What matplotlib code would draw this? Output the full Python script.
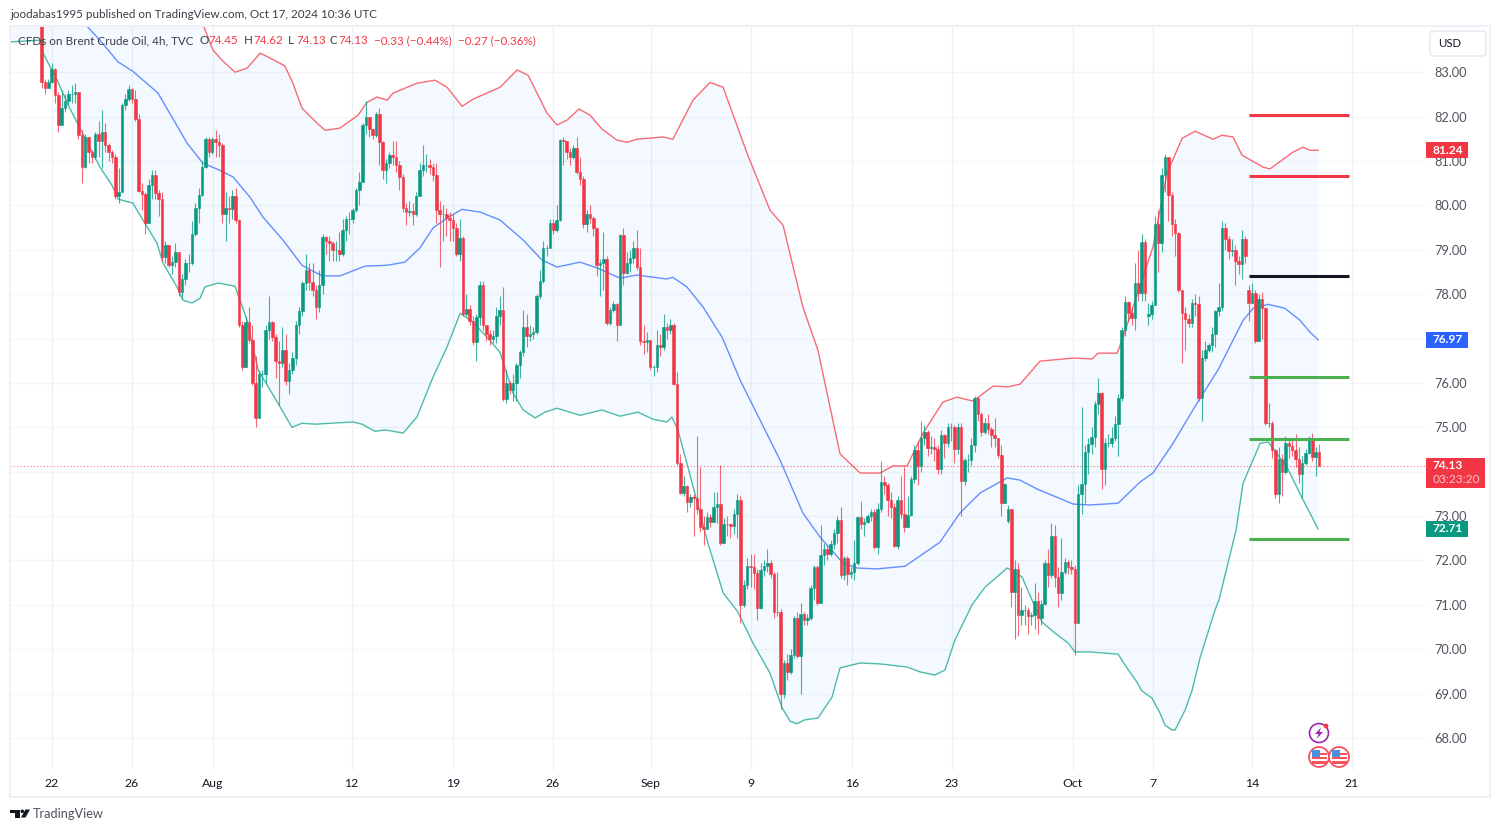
import numpy as np
import matplotlib
matplotlib.use("Agg")
import matplotlib.pyplot as plt
from matplotlib.patches import Rectangle, FancyBboxPatch, Circle, Polygon
from matplotlib.transforms import blended_transform_factory

plt.rcParams['font.family'] = ['Lato', 'DejaVu Sans']

first_open = 84.6
closes = [
82.78,82.65,82.78,83.08,82.48,81.8,82.2,82.35,82.5,82.5,
82.55,81.58,80.87,81.55,81.2,81.1,81.6,81.45,81.65,81.35,
81.2,81.1,80.22,80.3,82.25,82.4,82.63,82.4,81.95,80.33,
80.25,79.6,80.45,80.68,80.27,80.15,78.83,79.1,78.65,78.72,
78.95,78.05,78.35,78.7,78.7,79.35,79.93,80.23,80.87,81.5,
81.2,81.5,81.43,81.35,79.8,79.95,79.92,80.2,79.67,77.3,
76.35,77.37,76.96,76.0,75.2,76.2,76.2,77.2,77.37,77.03,
76.5,76.45,76.75,76.05,76.3,76.55,77.3,77.63,78.25,78.55,
78.27,78.1,77.7,78.2,79.28,79.2,79.15,79.0,79.0,78.9,
79.45,79.7,79.7,79.9,80.35,80.53,81.8,82.0,81.73,81.58,
82.05,81.43,80.8,80.95,81.13,81.1,80.9,80.64,79.93,79.85,
79.88,79.8,80.22,80.8,80.9,80.9,80.87,80.68,79.9,79.8,
79.8,79.72,79.67,79.5,78.9,79.27,77.55,77.67,77.4,76.92,
77.48,78.2,77.3,77.1,77.0,77.05,77.5,77.64,75.63,76.0,
75.85,76.0,76.4,76.7,77.25,77.05,77.1,77.15,77.95,78.3,
79.03,79.05,79.6,79.45,79.67,81.47,81.45,81.2,81.08,81.3,
80.75,80.6,79.58,79.8,79.72,79.5,78.65,78.7,78.8,77.35,
77.65,77.77,77.3,79.33,78.48,78.7,78.82,79.05,78.62,76.95,
76.93,76.97,76.35,76.35,76.85,76.8,77.25,77.2,77.3,75.98,
74.2,73.52,73.67,73.32,73.43,73.4,73.15,72.76,72.72,72.97,
72.87,73.2,73.27,72.4,72.83,72.82,72.78,73.05,73.37,71.0,
71.45,71.87,71.85,71.72,70.93,71.78,71.87,71.95,71.7,70.85,
70.83,69.0,69.68,69.48,69.88,70.7,69.85,70.8,70.65,70.7,
71.38,71.85,71.05,72.12,72.25,72.15,72.38,72.62,72.92,71.67,
72.05,71.7,71.75,71.95,72.97,72.83,72.87,73.0,73.1,72.3,
73.17,73.77,73.7,73.37,73.2,72.33,73.37,73.05,72.75,73.03,
73.83,74.48,74.12,74.75,74.9,74.53,74.55,74.5,74.05,74.82,
74.65,75.0,75.0,74.52,75.0,73.8,74.26,74.26,74.6,75.67,
75.3,74.9,75.1,74.97,74.82,74.75,74.37,73.3,73.72,73.15,
71.3,71.8,70.77,70.88,70.88,70.76,70.78,71.09,70.7,71.03,
71.95,71.67,72.55,71.63,71.27,71.75,71.97,71.85,71.8,70.6,
73.5,73.72,74.44,74.62,74.78,75.52,75.78,74.05,74.65,74.65,
74.77,75.07,75.65,77.2,77.83,77.58,77.47,78.25,78.02,79.18,
78.02,77.55,77.75,79.57,79.15,80.68,81.1,80.24,79.57,79.38,
78.1,77.58,77.45,77.35,77.8,77.78,75.67,76.55,76.75,76.85,
77.1,77.62,77.7,79.5,79.25,78.98,79.0,78.75,78.68,79.25,
78.85,77.8,78.02,76.95,77.9,77.68,75.1,75.1,74.48,73.5,
74.28,74.0,74.65,74.58,74.48,74.28,73.95,74.2,74.42,74.75,
74.32,74.45,74.13]
highs = [
84.6,82.85,82.85,83.2,83.1,82.55,82.6,82.5,82.6,82.7,
82.75,82.55,81.7,81.6,81.3,81.25,81.65,81.9,82.15,81.85,
81.4,81.25,81.15,80.85,82.3,82.5,82.7,82.65,82.6,82.05,
80.5,80.3,80.6,80.8,80.8,80.35,80.3,79.2,78.85,78.85,
79.15,78.95,78.45,78.8,78.9,79.65,80.05,80.4,81.0,81.55,
81.55,81.55,81.7,81.6,81.4,80.3,80.2,80.35,80.4,79.7,
77.4,77.5,77.7,77.3,76.6,76.3,76.3,77.3,77.95,77.4,
77.1,76.95,77.25,77.1,76.45,76.7,77.4,77.7,78.3,78.9,
78.7,78.7,78.2,78.55,79.35,79.3,79.3,79.2,79.2,79.4,
79.7,79.75,79.85,79.95,80.4,80.75,81.85,82.35,81.85,81.7,
82.1,82.2,81.45,81.05,81.2,81.45,81.45,81.0,80.7,80.05,
80.1,80.05,80.3,80.95,81.35,81.15,81.05,80.95,80.95,80.1,
80.0,79.95,79.85,79.8,79.6,79.7,79.3,78.0,77.75,77.5,
77.55,78.3,78.3,77.3,77.2,77.2,77.7,77.95,78.15,76.3,
76.05,76.2,76.45,76.75,77.65,77.55,77.3,77.25,78.0,78.55,
79.2,79.1,79.7,79.7,80.0,81.5,81.55,81.45,81.3,81.35,
81.55,81.1,80.65,79.9,80.0,79.75,79.5,78.8,79.4,78.85,
77.7,77.85,77.8,79.35,79.5,78.95,79.0,79.2,79.45,79.05,
77.3,77.15,76.9,76.4,77.2,77.1,77.55,77.35,77.45,77.35,
76.25,74.4,73.9,73.7,73.5,73.5,74.8,74.1,73.0,73.1,
73.05,73.55,73.55,74.15,72.95,73.0,72.85,73.15,73.5,73.45,
71.55,72.05,72.15,72.15,71.8,71.95,72.0,72.25,72.0,71.75,
71.75,70.9,69.75,69.9,70.0,70.75,70.85,71.05,70.85,70.8,
71.45,71.9,71.9,72.8,72.4,72.35,72.45,72.7,73.0,73.2,
72.1,72.1,71.85,72.45,73.0,73.35,72.95,73.05,73.15,73.15,
73.3,74.25,73.9,73.75,73.55,73.3,73.45,73.9,74.1,73.45,
73.9,74.6,74.7,75.15,75.05,74.95,74.8,74.75,74.6,74.95,
74.85,75.1,75.1,75.05,75.1,75.1,74.3,74.4,74.75,75.7,
75.68,75.35,75.2,75.3,75.0,75.2,74.75,74.6,73.75,73.25,
73.15,72.0,71.95,71.4,71.0,70.95,70.85,71.5,71.3,71.1,
72.0,72.25,72.85,72.8,71.85,72.5,72.05,72.0,72.0,71.9,
73.7,75.45,74.6,74.75,75.0,75.6,76.1,75.8,74.75,74.85,
75.0,75.25,75.75,77.25,77.95,77.85,77.7,78.7,79.0,79.35,
79.25,77.8,77.85,79.75,79.9,80.85,81.15,81.05,80.3,79.7,
79.4,78.1,77.7,77.55,77.9,78.0,77.95,76.75,76.95,76.9,
77.25,77.65,78.25,79.65,79.6,79.3,79.25,79.1,78.85,79.45,
79.3,78.2,78.25,78.1,78.0,78.05,77.72,75.55,75.15,74.5,
74.55,74.4,74.8,74.75,74.75,74.85,74.55,74.35,74.5,74.8,
74.88,74.55,74.62]
lows = [
82.65,82.5,82.65,82.75,82.3,81.65,81.95,82.1,82.25,82.3,
82.3,81.5,80.5,80.85,80.95,80.95,81.05,81.1,80.85,81.2,
81.0,80.95,80.15,80.05,80.3,82.15,82.35,82.3,81.9,80.3,
79.9,79.35,80.1,80.15,80.15,79.75,78.75,78.7,78.6,78.45,
78.6,77.95,77.9,78.2,78.5,78.65,79.3,79.6,80.2,80.85,
81.1,81.15,81.1,81.1,79.6,79.2,79.6,79.7,79.6,77.25,
76.3,76.35,76.9,75.95,75.0,75.2,75.9,76.0,77.0,76.95,
76.1,75.5,76.35,75.95,75.75,76.2,76.4,77.1,77.5,78.1,
78.1,77.95,77.45,77.6,78.0,78.9,78.75,78.75,78.75,78.75,
78.85,79.2,79.35,79.6,79.85,80.0,80.55,81.6,81.55,81.5,
81.55,80.9,80.6,80.5,80.85,80.9,80.75,80.35,79.85,79.55,
79.75,79.55,79.75,80.2,80.65,80.75,80.7,80.55,79.6,78.6,
79.2,79.3,79.2,79.2,78.85,78.75,77.5,77.5,77.3,76.85,
76.5,77.3,77.2,76.95,76.85,76.9,76.9,77.3,75.6,75.55,
75.75,75.6,75.6,76.1,76.6,76.8,76.95,77.0,77.1,77.9,
78.25,78.85,79.15,79.35,79.4,79.65,80.9,81.05,80.9,81.05,
80.7,80.45,79.5,79.4,79.6,79.3,78.4,77.95,78.1,77.3,
77.3,77.6,76.95,77.3,78.2,78.45,78.5,78.7,78.55,76.85,
76.65,76.7,76.3,76.15,76.25,76.6,76.75,77.0,77.1,75.95,
74.15,73.5,73.45,73.1,73.2,72.55,73.05,72.65,72.35,72.7,
72.75,72.95,72.85,72.35,72.4,72.55,72.5,72.6,72.5,70.6,
70.95,71.35,71.4,71.35,70.65,70.9,71.65,71.75,71.6,70.7,
70.75,68.65,68.9,69.3,69.45,69.8,69.8,69.0,70.55,70.55,
70.65,71.1,71.0,71.05,71.9,72.0,72.1,72.25,72.4,71.6,
71.55,71.45,71.6,71.55,71.9,72.7,72.55,72.85,72.9,72.25,
72.15,73.1,73.5,73.0,72.95,72.3,72.25,72.95,72.65,72.75,
73.0,73.75,73.7,74.0,74.6,74.35,74.4,74.25,73.95,73.95,
74.3,74.55,74.7,74.2,74.4,73.0,73.7,74.0,74.15,74.45,
75.15,74.8,74.85,74.85,74.55,74.55,74.3,73.0,73.3,72.85,
70.95,70.24,70.3,70.55,70.55,70.35,70.55,70.45,70.35,70.55,
71.0,71.4,71.6,71.4,70.95,71.1,71.7,71.7,71.7,69.88,
70.6,73.05,73.3,73.95,74.4,74.55,75.3,73.6,73.7,74.55,
74.55,74.7,74.35,75.6,77.05,77.4,77.3,77.2,77.85,77.85,
77.85,77.3,77.45,77.75,78.5,78.95,80.3,79.65,79.3,78.85,
78.05,76.45,76.75,77.25,77.25,77.5,75.6,75.15,76.5,76.7,
76.7,76.8,77.5,77.65,79.0,78.8,78.85,78.2,78.45,78.35,
78.7,77.4,77.9,76.9,76.95,77.0,75.05,75.0,74.3,73.4,
73.3,73.45,73.95,74.3,74.35,74.1,73.75,73.4,74.15,74.4,
74.25,73.9,74.13]
gap_opens = {289: 72.9, 290: 73.15, 331: 77.5, 361: 78.1}

upper_x = [-9.5,40,48.1,51.1,53.8,57.7,61.3,65.2,68.1,72.6,75.0,77.7,82.2,84.6,89.0,94.4,97.1,100.1,103.1,104.9,
112.0,117.4,121.0,125.5,128.7,136.8,141.9,145.2,150.8,153.8,156.8,160.4,163.7,167.2,171.7,174.7,177.7,185.5,188.4,194.4,
199.5,203.4,210.5,217.4,221.3,227.2,231.7,238.3,244.3,250.2,254.1,258.3,263.1,269.0,273.2,278.0,284.0,288.2,292.0,298.0,
307.9,313.5,315.3,321.0,322.8,326.4,331.7,335.9,340.4,344.3,349.6,352.3,355.6,358.3,364.6,366.6,373.5,376.5,378.6,381.0]
upper_y = [88,85.5,84.08,83.50,83.27,83.00,83.09,83.43,83.32,83.14,82.75,82.19,81.85,81.69,81.74,82.03,82.32,82.44,82.37,82.53,
82.75,82.82,82.66,82.23,82.39,82.66,83.05,82.93,82.08,81.81,81.92,82.17,82.03,81.72,81.47,81.42,81.49,81.54,81.49,82.37,
82.77,82.66,81.18,79.89,79.55,77.71,76.74,74.40,73.97,73.97,74.13,74.13,74.87,75.57,75.68,75.59,75.93,75.91,75.97,76.49,
76.56,76.54,76.67,76.67,77.03,77.86,79.06,80.73,81.51,81.67,81.49,81.58,81.54,81.13,80.86,80.82,81.20,81.31,81.24,81.24]

middle_x = [13.8,17.4,22.8,27.2,34.7,43.4,48.1,53.2,57.1,62.2,66.1,72.0,77.7,83.7,89.0,96.5,103.1,108.4,112.9,116.8,
121.3,125.5,130.8,136.8,143.7,149.3,153.8,160.7,165.8,172.6,177.7,186.6,188.4,192.6,197.4,203.1,208.5,220.4,227.2,232.3,
239.2,243.4,249.3,257.7,268.1,274.1,280.1,288.2,292.0,297.1,307.9,313.0,321.3,327.9,331.7,337.7,344.9,351.1,358.6,361.6,
366.1,371.1,375.6,378.6,381.0]
middle_y = [84.01,83.72,83.23,83.02,82.53,81.40,80.95,80.79,80.64,80.18,79.73,79.22,78.65,78.41,78.41,78.63,78.65,78.72,79.04,79.49,
79.73,79.91,79.85,79.67,79.22,78.77,78.61,78.72,78.59,78.36,78.43,78.34,78.38,78.16,77.71,77.03,76.06,74.26,73.07,72.53,
71.94,71.83,71.81,71.87,72.41,73.07,73.52,73.86,73.81,73.61,73.27,73.25,73.29,73.77,73.97,74.64,75.55,76.29,77.41,77.68,
77.77,77.68,77.41,77.14,76.97]

lower_x = [-9.5,-0.5,0.4,4.6,7.9,11.4,17.4,21.0,22.8,27.2,30.2,34.4,36.2,40.4,42.2,44.9,47.3,48.7,52.6,57.7,
61.3,64.6,69.6,74.7,77.7,81.6,92.9,95.6,99.5,102.5,107.9,112.0,116.8,121.0,124.9,128.7,132.9,136.8,140.7,143.7,
147.3,150.2,153.8,160.7,167.2,172.6,178.0,182.5,186.6,188.1,189.9,192.9,198.6,203.4,207.8,212.3,217.4,221.0,223.4,225.4,
227.8,231.7,235.9,238.3,244.3,250.2,258.3,262.2,266.6,269.6,272.6,277.7,281.6,288.2,292.6,296.0,298.6,302.5,306.4,308.4,
312.9,321.3,323.4,326.9,328.4,331.4,333.8,335.3,337.4,338.3,341.3,343.4,345.8,350.2,351.4,356.5,358.6,363.7,366.1,371.7,
376.2,381.0]
lower_y = [83.68,83.72,83.43,82.82,82.26,81.74,80.86,80.45,80.14,80.05,79.67,79.15,78.70,78.16,77.86,77.80,77.91,78.16,78.25,78.18,
77.41,76.29,75.66,75.00,75.09,75.07,75.12,75.07,74.91,74.94,74.87,75.23,76.13,76.81,77.57,77.37,77.03,76.69,75.77,75.39,
75.21,75.34,75.43,75.27,75.39,75.25,75.34,75.18,75.12,75.23,74.94,74.10,72.46,71.27,70.84,70.14,69.46,68.68,68.38,68.32,
68.41,68.45,68.92,69.58,69.69,69.67,69.60,69.49,69.42,69.53,70.21,71.00,71.40,71.83,71.63,71.04,70.61,70.36,70.14,69.94,
69.94,69.89,69.64,69.26,69.06,68.90,68.56,68.29,68.18,68.18,68.63,69.08,69.82,70.88,71.11,72.68,73.74,74.64,74.67,74.10,
73.41,72.71]

date_ticks = [3.0,26.9,51.0,92.5,122.7,152.5,181.8,211.6,241.8,271.6,307.7,331.6,361.2,391.0]
date_labels = ['22','26','Aug','12','19','26','Sep','9','16','23','Oct','7','14','21']
price_ticks = list(range(68, 84))
hidden_price_labels = [74, 77]   # covered by the price tags in the reference
level_start, level_end = 360.4, 390.2
red_levels = [82.03, 80.66]
black_levels = [78.40]
green_levels = [76.13, 74.73, 72.48]
last_price = 74.13

UP, DOWN = '#089981', '#f23645'
W, H = 1500, 832
fig = plt.figure(figsize=(W/100, H/100), dpi=100, facecolor='white')
ax = fig.add_axes([10/W, 1-770/H, 1415/W, 744/H], facecolor='white')
ax.set_xlim(-9.46, 412.9)
ax.set_ylim(67.28, 84.04)
for s in ax.spines.values():
    s.set_visible(False)

ax.set_xticks(date_ticks)
ax.set_xticklabels(date_labels, color='#131722', fontsize=8.8)
ax.set_yticks(price_ticks)
ax.set_yticklabels(['' if p in hidden_price_labels else f'{p:.2f}' for p in price_ticks], color='#50535e', fontsize=9.2)
ax.yaxis.tick_right()
ax.tick_params(axis='both', length=0)
ax.tick_params(axis='x', pad=6)
ax.tick_params(axis='y', pad=6.5)
ax.grid(True, axis='x', color='#eef0f3', lw=0.9)
ax.grid(True, axis='y', color='#f3f5f7', lw=0.9)
ax.set_axisbelow(True)

# band
ax.fill(upper_x + lower_x[::-1], upper_y + lower_y[::-1], color='#2196f3', alpha=0.05, lw=0, zorder=1)
ax.plot(upper_x, upper_y, color='#f7525f', lw=1.0, alpha=.85, zorder=2)
ax.plot(middle_x, middle_y, color='#2962ff', lw=1.0, alpha=.7, zorder=2)
ax.plot(lower_x, lower_y, color='#22ab94', lw=1.0, alpha=.8, zorder=2)
ax.axhline(last_price, color=DOWN, lw=0.8, ls=(0, (1, 2)), alpha=.7, zorder=2)

# candles
c = np.array(closes); hi = np.array(highs); lo = np.array(lows)
o = np.r_[first_open, c[:-1]]
for k, v in gap_opens.items():
    o[k] = v
idx = np.arange(len(c)) * 0.998
cols = np.where(c >= o, UP, DOWN)
ax.vlines(idx, np.minimum(lo, np.minimum(o, c)), np.maximum(hi, np.maximum(o, c)), colors=cols, lw=0.8, alpha=.75, zorder=3)
ax.bar(idx, np.abs(c-o), bottom=np.minimum(o, c), width=0.76, color=cols, edgecolor=cols, lw=0.4, zorder=4)

# drawn levels
for vals, col in ((red_levels, DOWN), (black_levels, '#131722'), (green_levels, '#4caf50')):
    ax.hlines(vals, level_start, level_end, colors=col, lw=2.2, zorder=5)

# price tags on the axis
tr = blended_transform_factory(ax.transAxes, ax.transData)
def tag_text(x_frac, val, s, col='white', **kw):
    ax.text(x_frac, val, s, transform=tr, color=col, fontsize=8.6, va='center', ha='left', clip_on=False, zorder=7, **kw)

tx = 1 + 8/1415
for val, col in ((81.24, DOWN), (76.97, '#2962ff'), (72.71, UP)):
    ax.add_patch(Rectangle((1.0006, val-.18), 42/1415, .36, transform=tr, fc=col, ec='none', clip_on=False, zorder=6))
    tag_text(tx, val, f'{val:.2f}', fontweight='bold')
ax.add_patch(Rectangle((1.0006, last_price-.5), 59/1415, .68, transform=tr, fc=DOWN, ec='none', clip_on=False, zorder=6))
tag_text(tx, last_price+.02, f'{last_price:.2f}', fontweight='bold')
tag_text(tx, last_price-.31, '03:23:20', col='#fbc5ca')

# overlay in figure pixels for the page furniture
ov = fig.add_axes([0, 0, 1, 1], facecolor='none', zorder=10)
ov.set_xlim(0, W); ov.set_ylim(H, 0); ov.axis('off')
ov.add_patch(Rectangle((10, 26), 1480, 771, fc='none', ec='#eef0f6', lw=1.4))
ov.text(10, 14, 'joodabas1995 published on TradingView.com, Oct 17, 2024 10:36 UTC', fontsize=8.4, color='#3a3e48', va='center')
ov.text(18, 41, 'CFDs on Brent Crude Oil, 4h, TVC', fontsize=8.35, color='#3a3e48', va='center')
for px, s, col in ((200, 'O', '#3a3e48'), (208, '74.45', DOWN), (244, 'H', '#3a3e48'), (253, '74.62', DOWN),
                   (288, 'L', '#3a3e48'), (296, '74.13', DOWN), (330, 'C', '#3a3e48'), (338, '74.13', DOWN),
                   (374, '\u22120.33 (\u22120.44%)', DOWN), (458, '\u22120.27 (\u22120.36%)', DOWN)):
    ov.text(px, 41, s, fontsize=8.35, color=col, va='center')
ov.add_patch(FancyBboxPatch((1432, 33), 52, 21, boxstyle='round,pad=2,rounding_size=3', fc='white', ec='#e0e3eb', lw=0.9))
ov.text(1438, 43.5, 'USD', fontsize=8.2, color='#131722', va='center')

# TradingView mark
ov.add_patch(Polygon([(10, 809.5), (20, 809.5), (20, 817.5), (14.5, 817.5), (14.5, 813), (10, 813)], fc='#131722', ec='none'))
ov.add_patch(Circle((22.3, 811.3), 1.8, fc='#131722', ec='none'))
ov.add_patch(Polygon([(25.5, 809.5), (30, 809.5), (25.5, 817.5), (21, 817.5)], fc='#131722', ec='none'))
ov.text(33, 814.5, 'TradingView', fontsize=9.2, color='#50535e', va='center')

# event icons
ov.add_patch(Circle((1319, 733), 9.5, fc='white', ec='#9c27b0', lw=1.2))
ov.add_patch(Polygon([(1321, 727.5), (1315, 734), (1318.5, 734), (1316.5, 739), (1323, 732), (1319.5, 732)], fc='#9c27b0', ec='none'))
ov.add_patch(Circle((1326, 726), 2.4, fc='#f23645', ec='none'))
for cx in (1319, 1339):
    ov.add_patch(Circle((cx, 757), 10, fc='white', ec='#f7525f', lw=1.3, zorder=3))
    for yy, hh in ((752.5, 2.2), (757, 2.2), (761, 3)):
        ov.add_patch(Rectangle((cx-7.5, yy), 15, hh, fc='#f7525f', ec='none', zorder=4))
    ov.add_patch(Rectangle((cx-7.5, 750), 8, 7, fc='#4a90e2', ec='none', zorder=5))

fig.savefig('out.png', dpi=100, facecolor='white')
